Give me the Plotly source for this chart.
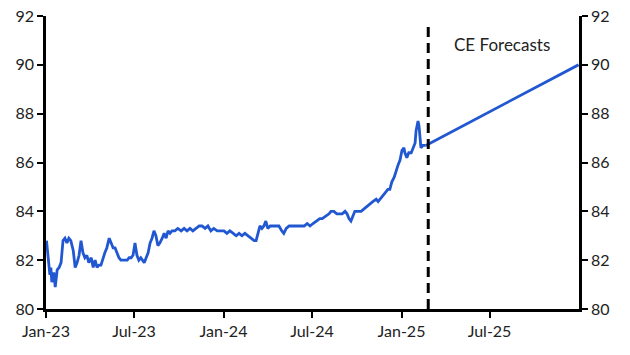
import plotly.graph_objects as go

hist_dates = [
    "2023-01-02","2023-01-05","2023-01-09","2023-01-11","2023-01-13","2023-01-17","2023-01-20","2023-01-24",
    "2023-01-28","2023-02-01","2023-02-05","2023-02-09","2023-02-13","2023-02-17","2023-02-21","2023-02-26",
    "2023-03-02","2023-03-06","2023-03-10","2023-03-14","2023-03-18","2023-03-22","2023-03-26","2023-03-30",
    "2023-04-04","2023-04-08","2023-04-12","2023-04-16","2023-04-20","2023-04-24","2023-04-28","2023-05-02",
    "2023-05-06","2023-05-11","2023-05-15","2023-05-19","2023-05-23","2023-05-27","2023-05-31","2023-06-04",
    "2023-06-08","2023-06-12","2023-06-17","2023-06-21","2023-06-25","2023-06-29","2023-07-03","2023-07-07",
    "2023-07-11","2023-07-15","2023-07-22","2023-07-26","2023-07-30","2023-08-03","2023-08-07","2023-08-11",
    "2023-08-15","2023-08-19","2023-08-23","2023-08-28","2023-09-01","2023-09-05","2023-09-09","2023-09-13",
    "2023-09-17","2023-09-23","2023-09-29","2023-10-06","2023-10-12","2023-10-18","2023-10-24","2023-10-30",
    "2023-11-05","2023-11-12","2023-11-18","2023-11-24","2023-11-30","2023-12-06","2023-12-12","2023-12-19",
    "2023-12-25","2023-12-29","2024-01-02","2024-01-08","2024-01-14","2024-01-21","2024-01-27","2024-02-02",
    "2024-02-08","2024-02-14","2024-02-20","2024-02-27","2024-03-04","2024-03-08","2024-03-12","2024-03-16",
    "2024-03-20","2024-03-24","2024-03-28","2024-04-01","2024-04-06","2024-04-12","2024-04-18","2024-04-24",
    "2024-04-30","2024-05-04","2024-05-09","2024-05-15","2024-05-21","2024-05-27","2024-06-02","2024-06-08",
    "2024-06-15","2024-06-21","2024-06-27","2024-07-03","2024-07-09","2024-07-17","2024-07-22","2024-07-30",
    "2024-08-05","2024-08-09","2024-08-15","2024-08-21","2024-08-25","2024-09-01","2024-09-07","2024-09-11",
    "2024-09-15","2024-09-19","2024-09-23","2024-09-27","2024-10-04","2024-10-10","2024-10-16","2024-10-22",
    "2024-10-26","2024-11-03","2024-11-10","2024-11-14","2024-11-18","2024-11-22","2024-11-26","2024-11-30",
    "2024-12-04","2024-12-08","2024-12-12","2024-12-17","2024-12-21","2024-12-25","2024-12-29","2025-01-02",
    "2025-01-06","2025-01-08","2025-01-12","2025-01-16","2025-01-21","2025-01-25","2025-01-29","2025-01-31",
    "2025-02-04","2025-02-06","2025-02-08","2025-02-10","2025-02-14","2025-02-20",
]
hist_values = [
    82.8, 82.2, 81.4, 81.7, 81.1, 81.5, 80.9, 81.6,
    81.7, 81.9, 82.8, 82.9, 82.7, 82.9, 82.8, 82.4,
    81.7, 81.9, 82.2, 82.8, 82.3, 82.1, 82.2, 81.9,
    82.1, 81.7, 82.0, 81.7, 81.8, 81.8, 82.1, 82.3,
    82.5, 82.9, 82.7, 82.5, 82.5, 82.3, 82.1, 82.0,
    82.0, 82.0, 82.0, 82.1, 82.1, 82.2, 82.7, 82.2,
    82.0, 82.1, 81.9, 82.1, 82.3, 82.7, 82.9, 83.2,
    83.0, 82.6, 82.7, 82.9, 83.1, 82.9, 83.2, 83.1,
    83.2, 83.2, 83.3, 83.2, 83.3, 83.2, 83.3, 83.2,
    83.3, 83.4, 83.4, 83.3, 83.4, 83.2, 83.3, 83.2,
    83.2, 83.2, 83.2, 83.1, 83.2, 83.1, 83.0, 83.1,
    83.0, 83.1, 83.0, 82.9, 82.8, 82.8, 83.1, 83.4,
    83.3, 83.4, 83.6, 83.3, 83.4, 83.4, 83.4, 83.4,
    83.2, 83.1, 83.3, 83.4, 83.4, 83.4, 83.4, 83.4,
    83.4, 83.5, 83.4, 83.5, 83.6, 83.7, 83.7, 83.8,
    83.9, 84.0, 84.0, 83.9, 83.9, 83.9, 84.0, 83.9,
    83.7, 83.6, 83.8, 84.0, 84.0, 84.0, 84.1, 84.2,
    84.3, 84.4, 84.5, 84.4, 84.5, 84.6, 84.7, 84.8,
    84.9, 84.9, 85.2, 85.4, 85.7, 85.9, 86.1, 86.5,
    86.6, 86.4, 86.2, 86.4, 86.4, 86.6, 86.8, 87.3,
    87.7, 87.5, 86.8, 86.6, 86.7, 86.7,
]

forecast_dates = ["2025-02-20", "2025-12-31"]
forecast_values = [86.7, 90.0]

forecast_start = "2025-02-25"
forecast_label = "CE Forecasts"

x_tickvals = ["2023-01-01", "2023-07-01", "2024-01-01", "2024-07-01", "2025-01-01", "2025-07-01"]
x_ticktext = ["Jan-23", "Jul-23", "Jan-24", "Jul-24", "Jan-25", "Jul-25"]
y_ticks = [80, 82, 84, 86, 88, 90, 92]

LINE = "#2158d2"
FONT = "Lato"
TXT = "#222222"

fig = go.Figure()
fig.add_trace(go.Scatter(x=hist_dates, y=hist_values, mode="lines",
                         line=dict(color=LINE, width=2.8), showlegend=False))
fig.add_trace(go.Scatter(x=forecast_dates, y=forecast_values, mode="lines",
                         line=dict(color=LINE, width=2.8), showlegend=False, yaxis="y2"))

fig.add_shape(type="line", xref="x", yref="paper", x0=forecast_start, x1=forecast_start,
              y0=0, y1=0.98, line=dict(color="black", width=3, dash="10px,6px"))
fig.add_annotation(x="2025-07-26", y=90.85, xref="x", yref="y", text=forecast_label,
                   showarrow=False, font=dict(family=FONT, size=17, color=TXT))

axis_common = dict(range=[80, 92], tickvals=y_ticks, showgrid=False, zeroline=False,
                   showline=True, linecolor="black", linewidth=2.5, automargin=False,
                   ticklabeloverflow="allow",
                   ticks="outside", ticklen=6, tickwidth=2, tickcolor="black",
                   tickfont=dict(family=FONT, size=16, color=TXT))

fig.update_layout(
    width=630, height=355,
    margin=dict(l=46, r=51, t=16, b=46, autoexpand=False),
    plot_bgcolor="white", paper_bgcolor="white",
    xaxis=dict(range=["2023-01-01", "2026-01-01"], tickvals=x_tickvals, ticktext=x_ticktext,
               showgrid=False, zeroline=False, showline=True, linecolor="black", linewidth=2.5,
               automargin=False, ticklabeloverflow="allow",
               ticks="outside", ticklen=6, tickwidth=2, tickcolor="black",
               tickfont=dict(family=FONT, size=16, color=TXT)),
    yaxis=dict(side="left", **axis_common),
    yaxis2=dict(side="right", overlaying="y", anchor="x", **axis_common),
)

# remove the default page margin so the figure sits at the window's top-left corner
fig.write_html("out.html",
               config={"displayModeBar": False},
               post_script="document.body.style.margin='0';document.body.style.overflow='hidden';")
